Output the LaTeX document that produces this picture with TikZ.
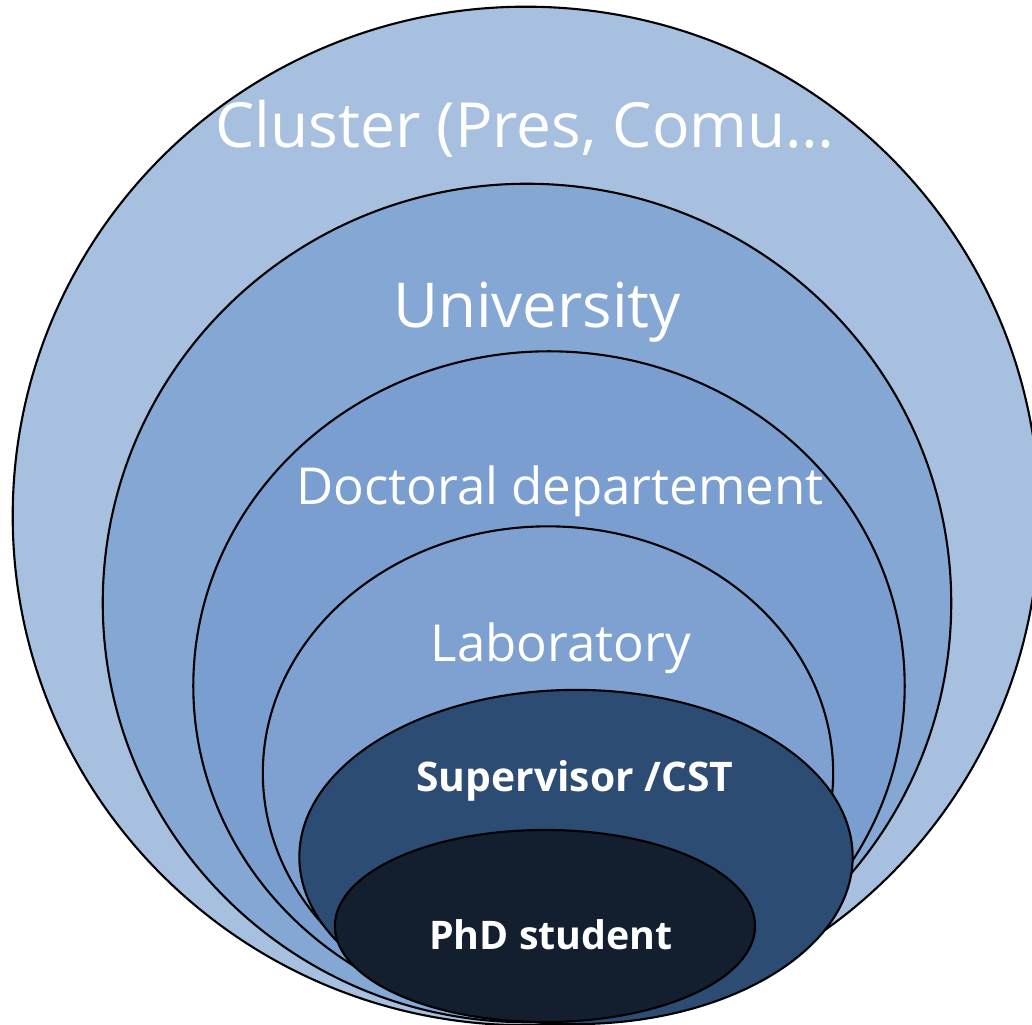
\documentclass[tikz,border=0pt]{standalone}
\usepackage{fontspec}
\setmainfont{Open Sans}
\usepackage{tikz}
\usetikzlibrary{shapes.geometric}

\definecolor{clusterblue}{HTML}{A8C0DF}
\definecolor{univblue}{HTML}{85A7D4}
\definecolor{doctblue}{HTML}{7A9ECF}
\definecolor{labblue}{HTML}{7EA1D1}
\definecolor{supblue}{HTML}{2C4C73}
\definecolor{phdblue}{HTML}{131E2E}

\begin{document}
\begin{tikzpicture}[x=0.01cm, y=-0.01cm,
  every node/.style = {align=center, text=white},
  ring/.style = {draw, ellipse, line width=0.6pt, inner sep=0pt},
  tag/.style = {anchor=base, inner sep=0pt}]
  \useasboundingbox (0,0) rectangle (1032,1025);
  \node [ring, fill=clusterblue, minimum width=10.26cm, minimum height=10.18cm] (cluster) at (526,516) {};
  \node [ring, fill=univblue, minimum width=8.48cm, minimum height=8.38cm] (univ) at (527,603) {};
  \node [ring, fill=doctblue, minimum width=7.11cm, minimum height=6.69cm] (doct) at (549,686) {};
  \node [ring, fill=labblue, minimum width=5.70cm, minimum height=4.93cm] (lab) at (548,773) {};
  \node [ring, fill=supblue, minimum width=5.53cm, minimum height=3.34cm] (sup) at (576,857) {};
  \node [ring, fill=phdblue, minimum width=4.20cm, minimum height=1.92cm] (phd) at (545,926) {};
  % labels
  \node [tag, font=\fontsize{17.7}{20}\selectfont] (clustertext) at (525,148) {Cluster (Pres, Comu…};
  \node [tag, font=\fontsize{17.6}{20}\selectfont] (univtext) at (537,328) {University};
  \node [tag, font=\fontsize{14.5}{17}\selectfont] (docttext) at (560,505) {Doctoral departement};
  \node [tag, font=\fontsize{14.5}{17}\selectfont] (labtext) at (561,662) {Laboratory};
  \node [tag, font=\bfseries\fontsize{11.6}{14}\selectfont] (suptext) at (575,792) {Supervisor /CST};
  \node [tag, font=\bfseries\fontsize{11.2}{14}\selectfont] (phdtext) at (551,950) {PhD student};
\end{tikzpicture}
\end{document}
